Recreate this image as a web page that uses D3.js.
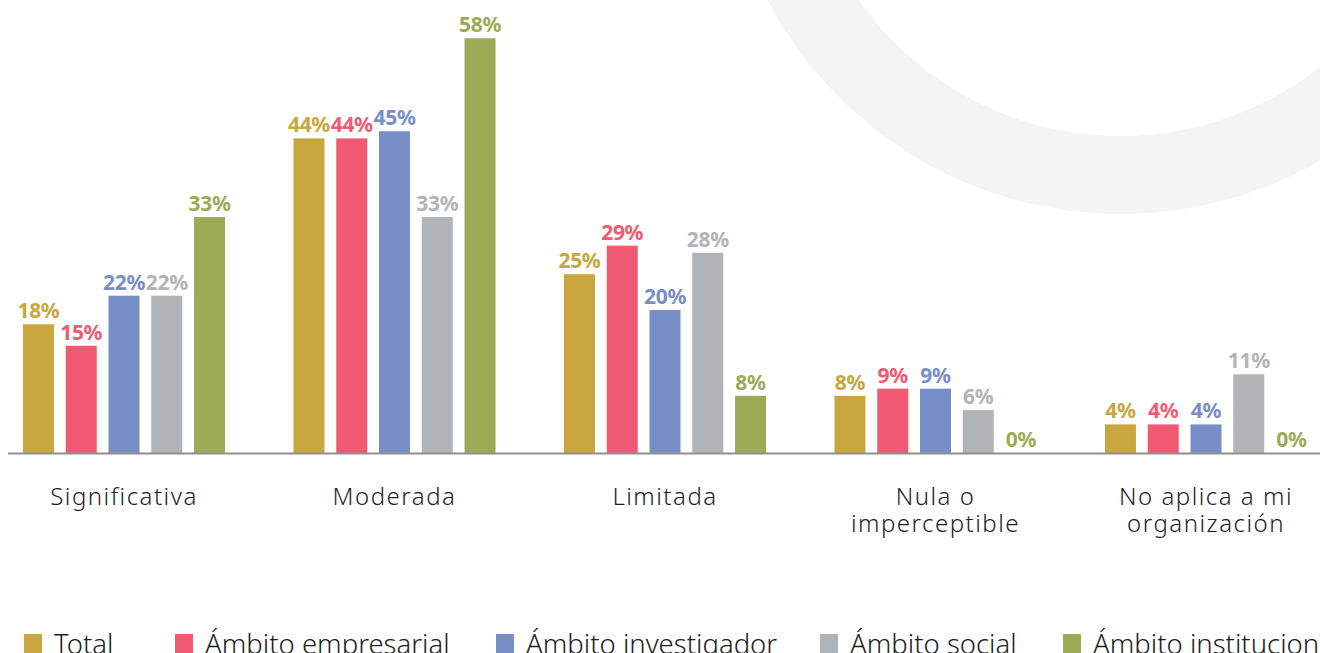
<!DOCTYPE html>
<html>
<head>
<meta charset="utf-8">
<script src="https://cdn.jsdelivr.net/npm/d3@7"></script>
<style>
  body { margin: 0; background: #fff; }
  svg { display: block; }
</style>
</head>
<body>
<div id="chart"></div>
<script>
const width = 1320, height = 653;

// data
const categories = ["Significativa", "Moderada", "Limitada", "Nula o imperceptible", "No aplica a mi organización"];
const categoryLines = [["Significativa"], ["Moderada"], ["Limitada"], ["Nula o", "imperceptible"], ["No aplica a mi", "organización"]];
const seriesNames = ["Total", "Ámbito empresarial", "Ámbito investigador", "Ámbito social", "Ámbito institucional"];
const total = [18, 44, 25, 8, 4];
const empresarial = [15, 44, 29, 9, 4];
const investigador = [22, 45, 20, 9, 4];
const social = [22, 33, 28, 6, 11];
const institucional = [33, 58, 8, 0, 0];
const seriesValues = [total, empresarial, investigador, social, institucional];
const colors = ["#c9a63e", "#f05a72", "#788ec6", "#b1b4b7", "#9daa55"];

const svg = d3.select("#chart")
    .append("svg")
    .attr("width", width)
    .attr("height", height);

// faint decorative ring in the background
svg.append("path")
    .attr("transform", "translate(1121,-185)")
    .attr("fill", "#f3f4f4")
    .attr("d", d3.arc()({ innerRadius: 321, outerRadius: 399, startAngle: 0, endAngle: 2 * Math.PI }));

const baseY = 453;

const x0 = d3.scaleBand()
    .domain(categories)
    .range([-11.25, 1341.25])
    .paddingInner(0.253)
    .paddingOuter(0.1265);

const x1 = d3.scaleBand()
    .domain(seriesNames)
    .range([0, x0.bandwidth()])
    .paddingInner(0.275);

const y = d3.scaleLinear()
    .domain([0, 60])
    .range([baseY, baseY - 60 * 7.15]);

const color = d3.scaleOrdinal().domain(seriesNames).range(colors);

// flatten for drawing
const rows = [];
categories.forEach((c, i) => {
    seriesNames.forEach((s, j) => {
        rows.push({ cat: c, series: s, value: seriesValues[j][i] });
    });
});

const groups = svg.selectAll(".group")
    .data(categories)
    .enter()
    .append("g")
    .attr("class", "group")
    .attr("transform", d => `translate(${x0(d)},0)`);

groups.selectAll("rect")
    .data(c => rows.filter(r => r.cat === c))
    .enter()
    .append("rect")
    .attr("x", d => x1(d.series))
    .attr("y", d => y(d.value))
    .attr("width", x1.bandwidth())
    .attr("height", d => y(0) - y(d.value))
    .attr("fill", d => color(d.series));

groups.selectAll("text.val")
    .data(c => rows.filter(r => r.cat === c))
    .enter()
    .append("text")
    .attr("class", "val")
    .attr("x", d => x1(d.series) + x1.bandwidth() / 2)
    .attr("y", d => y(d.value) - 6)
    .attr("text-anchor", "middle")
    .attr("font-family", "'Noto Sans', sans-serif")
    .attr("font-weight", 700)
    .attr("font-size", 21)
    .attr("letter-spacing", -0.3)
    .attr("fill", d => color(d.series))
    .text(d => d.value + "%");

// baseline
svg.append("line")
    .attr("x1", 8)
    .attr("x2", width)
    .attr("y1", baseY + 0.5)
    .attr("y2", baseY + 0.5)
    .attr("stroke", "#8f8f8f")
    .attr("stroke-width", 2);

// category labels
const catLabels = svg.selectAll(".cat")
    .data(categories)
    .enter()
    .append("text")
    .attr("class", "cat")
    .attr("text-anchor", "middle")
    .attr("font-family", "'Noto Sans', sans-serif")
    .attr("font-weight", 300)
    .attr("font-size", 24)
    .attr("letter-spacing", 1.5)
    .attr("fill", "#1e1e1e")
    .attr("transform", d => `translate(${x0(d) + x0.bandwidth() / 2},505)`);

catLabels.selectAll("tspan")
    .data((d, i) => categoryLines[i])
    .enter()
    .append("tspan")
    .attr("x", 0)
    .attr("dy", (d, i) => i === 0 ? 0 : 27)
    .text(d => d);

// legend (item offsets as in the original layout)
const legendX = [24, 175, 496, 820, 1063];
const legend = svg.append("g").attr("transform", "translate(0,634)");
const items = legend.selectAll(".item")
    .data(seriesNames)
    .enter()
    .append("g")
    .attr("class", "item")
    .attr("transform", (d, i) => `translate(${legendX[i]},0)`);

items.append("rect")
    .attr("width", 18)
    .attr("height", 19)
    .attr("fill", d => color(d));

items.append("text")
    .attr("x", 30)
    .attr("y", 19.5)
    .attr("font-family", "'Noto Sans', sans-serif")
    .attr("font-weight", 300)
    .attr("font-size", 27.5)
    .attr("fill", "#1e1e1e")
    .text(d => d);
</script>
</body>
</html>
